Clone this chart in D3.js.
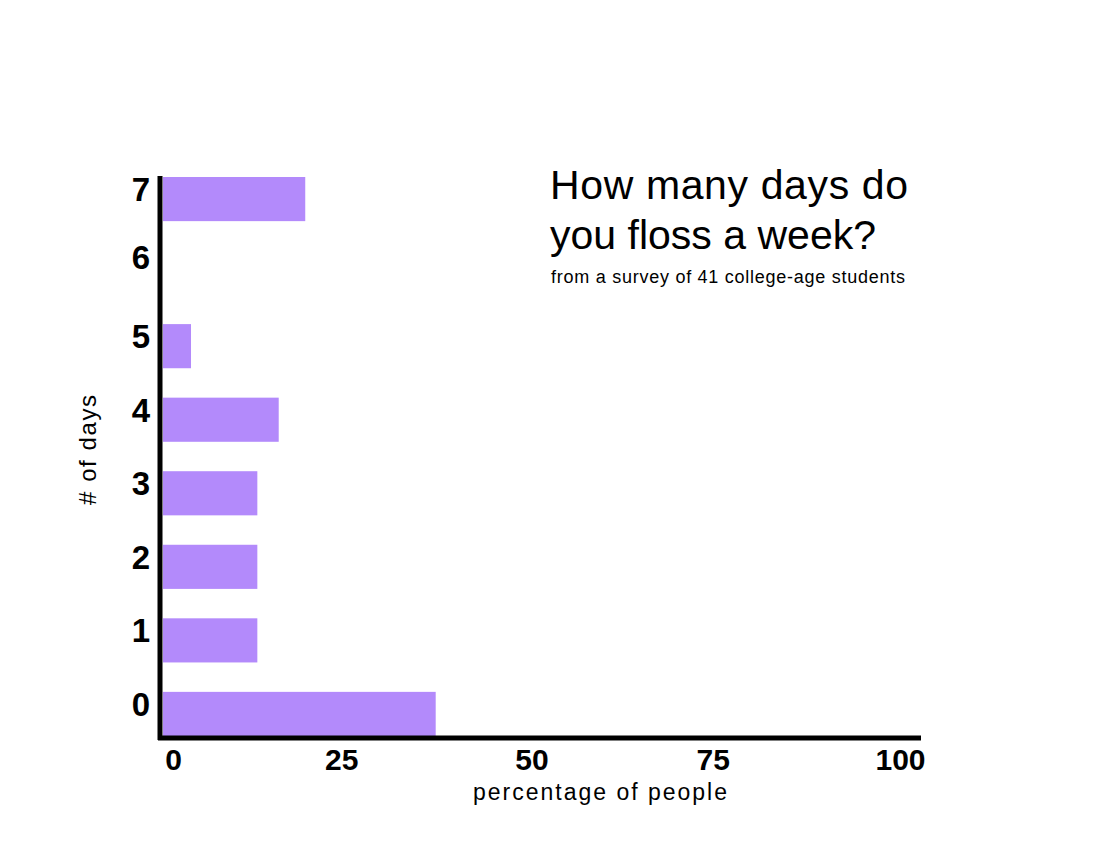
<!DOCTYPE html>
<html>
<head>
<meta charset="utf-8">
<script src="https://cdn.jsdelivr.net/npm/d3@7"></script>
<style>
  body { margin: 0; background: #fff; }
  svg { display: block; }
</style>
</head>
<body>
<div id="chart"></div>
<script>
const days     = ["7", "6", "5", "4", "3", "2", "1", "0"];
const percents = [19.3, 0, 3.8, 15.7, 12.8, 12.8, 12.8, 37];
const xTicks   = [0, 25, 50, 75, 100];

const W = 1100, H = 850;
const BAR_COLOR = "#b38afb";
const FONT = "'Liberation Sans', Arial, Helvetica, sans-serif";

const svg = d3.select("#chart").append("svg")
  .attr("width", W).attr("height", H);

const x = d3.scaleLinear().domain([0, 100]).range([163, 900]);
const y = d3.scaleBand().domain(days).range([177, 736]).paddingInner(0.4).paddingOuter(0);

// bars
svg.selectAll("rect.bar")
  .data(days.map((d, i) => ({ day: d, pct: percents[i] })))
  .join("rect")
  .attr("class", "bar")
  .attr("x", x(0))
  .attr("y", d => y(d.day))
  .attr("width", d => x(d.pct) - x(0))
  .attr("height", y.bandwidth())
  .attr("fill", BAR_COLOR);

// axis lines
svg.append("line")
  .attr("x1", 160).attr("x2", 160)
  .attr("y1", 176).attr("y2", 740)
  .attr("stroke", "#000").attr("stroke-width", 5);
svg.append("line")
  .attr("x1", 158).attr("x2", 921)
  .attr("y1", 738).attr("y2", 738)
  .attr("stroke", "#000").attr("stroke-width", 5);

// y tick labels
const yAxis = svg.append("g")
  .attr("transform", "translate(150,0)")
  .call(d3.axisLeft(y).tickSize(0).tickPadding(0));
yAxis.select(".domain").remove();
yAxis.selectAll("text")
  .attr("dy", "0.3em")
  .attr("y", d => d === "6" ? -14 : -8)
  .style("font-family", FONT)
  .style("font-weight", "bold")
  .style("font-size", "33px")
  .style("fill", "#000");

// x tick labels
const xAxis = svg.append("g")
  .attr("transform", "translate(0,742)")
  .call(d3.axisBottom(x).tickValues(xTicks).tickSize(0).tickPadding(0));
xAxis.select(".domain").remove();
xAxis.selectAll("text")
  .attr("dy", "0.92em")
  .attr("dx", d => d === 0 ? 10 : d === 25 ? -6 : d === 75 ? -3 : 0)
  .style("font-family", FONT)
  .style("font-weight", "bold")
  .style("font-size", "30px")
  .style("fill", "#000");

// axis titles
svg.append("text")
  .attr("x", 600).attr("y", 800)
  .attr("text-anchor", "middle")
  .attr("textLength", 254)
  .attr("lengthAdjust", "spacing")
  .style("font-family", FONT)
  .style("font-size", "23px")
  .text("percentage of people");

svg.append("text")
  .attr("transform", "translate(96,450) rotate(-90)")
  .attr("text-anchor", "middle")
  .attr("textLength", 110)
  .attr("lengthAdjust", "spacing")
  .style("font-family", FONT)
  .style("font-size", "24px")
  .text("# of days");

// title
const title = svg.append("text")
  .style("font-family", FONT)
  .style("font-size", "41px")
  .style("font-weight", "300");
title.append("tspan").attr("x", 550).attr("y", 199)
  .attr("textLength", 358).attr("lengthAdjust", "spacing").text("How many days do");
title.append("tspan").attr("x", 550).attr("y", 249)
  .attr("textLength", 326).attr("lengthAdjust", "spacing").text("you floss a week?");

svg.append("text")
  .attr("x", 551).attr("y", 283)
  .attr("textLength", 354)
  .attr("lengthAdjust", "spacing")
  .style("font-family", FONT)
  .style("font-size", "18px")
  .text("from a survey of 41 college-age students");
</script>
</body>
</html>
